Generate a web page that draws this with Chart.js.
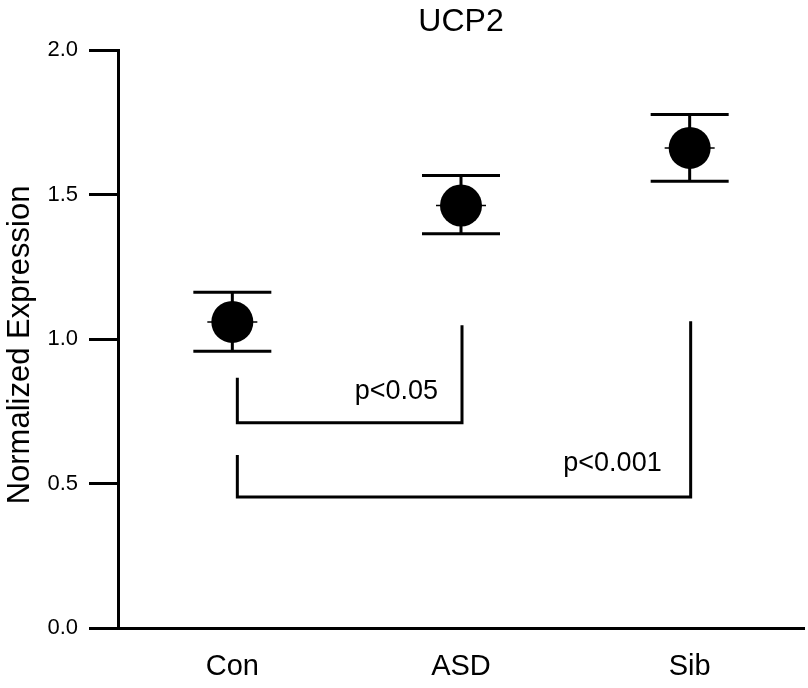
<!DOCTYPE html>
<html>
<head>
<meta charset="utf-8">
<script src="https://cdn.jsdelivr.net/npm/chart.js@4/dist/chart.umd.min.js"></script>
<style>
  html, body { margin: 0; padding: 0; background: #fff; }
  #wrap { width: 808px; height: 688px; }
</style>
</head>
<body>
<div id="wrap"><canvas id="chart1" width="808" height="688"></canvas></div>
<script>
// data
const categories = ["Con", "ASD", "Sib"];
const means      = [1.059, 1.462, 1.661];
const errHigh    = [1.162, 1.566, 1.777];
const errLow     = [0.958, 1.364, 1.546];
const yTicks     = [0.0, 0.5, 1.0, 1.5, 2.0];

// significance brackets
const bracketFrom    = ["Con", "Con"];
const bracketTo      = ["ASD", "Sib"];
const bracketFromTop = [0.866, 0.599];
const bracketBase    = [0.710, 0.453];
const bracketToTop   = [1.048, 1.061];
const bracketText    = ["p<0.05", "p<0.001"];

const FONT = "'Liberation Sans', Arial, sans-serif";

const extras = {
    id: "extras",
    afterDatasetsDraw(chart){
        const ctx = chart.ctx, x = chart.scales.x, y = chart.scales.y;
        ctx.save();
        ctx.strokeStyle = "#000";
        ctx.fillStyle = "#000";
        ctx.lineCap = "butt";

        // error bars + small mean tick across each marker
        categories.forEach((c, i) => {
            const px = x.getPixelForValue(i);
            const hi = y.getPixelForValue(errHigh[i]);
            const lo = y.getPixelForValue(errLow[i]);
            const m  = y.getPixelForValue(means[i]);
            ctx.lineWidth = 3;
            ctx.beginPath();
            ctx.moveTo(px, hi); ctx.lineTo(px, lo);
            ctx.moveTo(px - 39, hi); ctx.lineTo(px + 39, hi);
            ctx.moveTo(px - 39, lo); ctx.lineTo(px + 39, lo);
            ctx.stroke();
            ctx.lineWidth = 1.5;
            ctx.beginPath();
            ctx.moveTo(px - 25, m); ctx.lineTo(px + 25, m);
            ctx.stroke();
        });

        // brackets
        const textOff = [[-24, -31], [-29, -34]];
        ctx.lineWidth = 3;
        ctx.lineJoin = "miter";
        bracketFrom.forEach((f, k) => {
            const x1 = x.getPixelForValue(categories.indexOf(f)) + 5;
            const x2 = x.getPixelForValue(categories.indexOf(bracketTo[k])) + 1;
            const yb = y.getPixelForValue(bracketBase[k]);
            ctx.beginPath();
            ctx.moveTo(x1, y.getPixelForValue(bracketFromTop[k]));
            ctx.lineTo(x1, yb);
            ctx.lineTo(x2, yb);
            ctx.lineTo(x2, y.getPixelForValue(bracketToTop[k]));
            ctx.stroke();
            ctx.font = "27px " + FONT;
            ctx.textAlign = "right";
            ctx.textBaseline = "middle";
            ctx.fillText(bracketText[k], x2 + textOff[k][0], yb + textOff[k][1]);
        });

        // title and y axis title
        ctx.textAlign = "center";
        ctx.textBaseline = "middle";
        ctx.font = "32px " + FONT;
        ctx.fillText("UCP2", 461, 22);
        ctx.translate(20, 345);
        ctx.rotate(-Math.PI / 2);
        ctx.font = "31px " + FONT;
        ctx.fillText("Normalized Expression", 0, 0);
        ctx.restore();
    }
};

new Chart(document.getElementById("chart1"), {
    type: "line",
    data: {
        labels: categories,
        datasets: [{
            data: means,
            showLine: false,
            pointRadius: 21,
            pointHoverRadius: 21,
            pointBackgroundColor: "#000",
            pointBorderWidth: 0,
            clip: false
        }]
    },
    options: {
        responsive: false,
        animation: false,
        events: [],
        layout: { autoPadding: false, padding: { top: 50, right: 4, left: 0, bottom: 0 } },
        plugins: { legend: { display: false }, tooltip: { enabled: false } },
        scales: {
            x: {
                offset: true,
                grid: { display: true, drawOnChartArea: false, drawTicks: false },
                border: { display: true, color: "#000", width: 3 },
                ticks: { color: "#000", font: { size: 29, family: FONT }, padding: 22, maxRotation: 0 },
                afterFit(s){ s.height = 60; s.paddingLeft = 0; s.paddingRight = 0; }
            },
            y: {
                min: 0, max: 2,
                afterBuildTicks(s){ s.ticks = yTicks.map(v => ({ value: v })); },
                grid: { drawOnChartArea: false, drawTicks: true, tickLength: 29, tickWidth: 3, color: "#000" },
                border: { display: true, color: "#000", width: 3 },
                ticks: { color: "#000", font: { size: 22, family: FONT }, padding: 11,
                         callback: v => Number(v).toFixed(1) },
                afterFit(s){ s.width = 118; s.paddingTop = 0; s.paddingBottom = 0; }
            }
        }
    },
    plugins: [extras]
});
</script>
</body>
</html>
